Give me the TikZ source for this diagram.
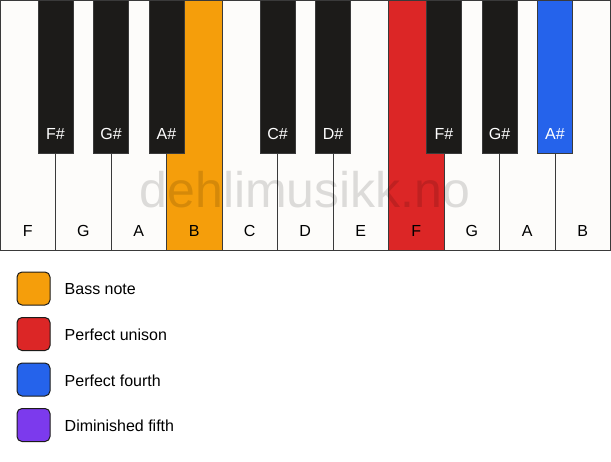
\documentclass[tikz,border=0pt]{standalone}
\usepackage{fontspec}
\setmainfont{Liberation Sans}
\usepackage{xcolor}
\usepackage{tikz}
\usetikzlibrary{positioning}
\definecolor{keyline}{HTML}{3A3A3A}
\definecolor{ivory}{HTML}{FDFCFA}
\definecolor{ebony}{HTML}{1C1B19}
\definecolor{bass}{HTML}{F59E0B}
\definecolor{unison}{HTML}{DC2626}
\definecolor{fourth}{HTML}{2563EB}
\definecolor{dimfifth}{HTML}{7C3AED}
\tikzset{white key/.style={rectangle,draw=keyline,line width=1pt,fill=ivory,minimum width=55.5pt,minimum height=250pt,inner sep=0pt},
         black key/.style={rectangle,draw=keyline,line width=1pt,fill=ebony,minimum width=35pt,minimum height=153pt,inner sep=0pt},
         key name/.style={anchor=base,yshift=14pt,font=\fontsize{16}{19}\selectfont},
         legend box/.style={rectangle,rounded corners=5pt,draw=ebony,line width=1pt,minimum size=33pt,inner sep=0pt}}

\begin{document}
\begin{tikzpicture}[x=1pt,y=-1pt]
            \useasboundingbox (0,0) rectangle (611,461);
            % white keys
            \node[white key,label={[key name]south:F}] (f1) at (27.75,125) {};
            \node[white key,label={[key name]south:G}] (g1) at (83.25,125) {};
            \node[white key,label={[key name]south:A}] (a1) at (138.75,125) {};
            \node[white key,fill=bass,label={[key name]south:B}] (b1) at (194.25,125) {};
            \node[white key,label={[key name]south:C}] (c2) at (249.75,125) {};
            \node[white key,label={[key name]south:D}] (d2) at (305.25,125) {};
            \node[white key,label={[key name]south:E}] (e2) at (360.75,125) {};
            \node[white key,fill=unison,label={[key name]south:F}] (f2) at (416.25,125) {};
            \node[white key,label={[key name]south:G}] (g2) at (471.75,125) {};
            \node[white key,label={[key name]south:A}] (a2) at (527.25,125) {};
            \node[white key,label={[key name]south:B}] (b2) at (582.75,125) {};
            % black keys
            \node[black key,label={[key name,text=white]south:F\#}] (fs1) at (55.5,76.5) {};
            \node[black key,label={[key name,text=white]south:G\#}] (gs1) at (111,76.5) {};
            \node[black key,label={[key name,text=white]south:A\#}] (as1) at (166.5,76.5) {};
            \node[black key,label={[key name,text=white]south:C\#}] (cs2) at (277.5,76.5) {};
            \node[black key,label={[key name,text=white]south:D\#}] (ds2) at (333,76.5) {};
            \node[black key,label={[key name,text=white]south:F\#}] (fs2) at (444,76.5) {};
            \node[black key,label={[key name,text=white]south:G\#}] (gs2) at (499.5,76.5) {};
            \node[black key,fill=fourth,label={[key name,text=white]south:A\#}] (as2) at (555,76.5) {};
            % watermark
            \node[text=black,text opacity=0.13,font=\fontsize{50}{58}\selectfont,anchor=base] (mark) at (305,207) {dehlimusikk.no};
            % legend
            \node[legend box,fill=bass] (sq1) at (33.5,288.5) {};
            \node[legend box,fill=unison] (sq2) [below=11.5pt of sq1] {};
            \node[legend box,fill=fourth] (sq3) [below=11.5pt of sq2] {};
            \node[legend box,fill=dimfifth] (sq4) [below=11.5pt of sq3] {};
            \begin{scope}[every node/.style={inner sep=0pt,yshift=-1pt,font=\fontsize{16}{19}\selectfont}]
                \node (t1) [right=14pt of sq1] {Bass note};
                \node (t2) [right=14pt of sq2] {Perfect unison};
                \node (t3) [right=14pt of sq3] {Perfect fourth};
                \node (t4) [right=14pt of sq4] {Diminished fifth};
            \end{scope}
        \end{tikzpicture}
\end{document}
